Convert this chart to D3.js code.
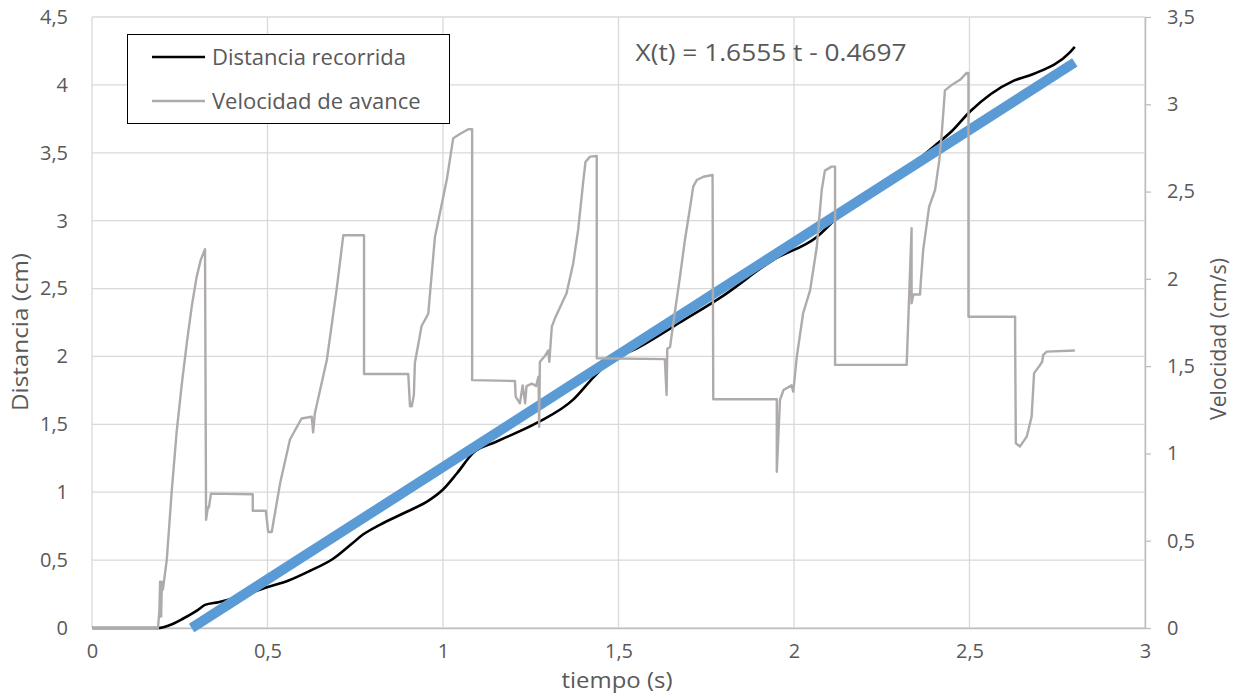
<!DOCTYPE html>
<html>
<head>
<meta charset="utf-8">
<script src="https://cdn.jsdelivr.net/npm/d3@7"></script>
<style>
  html, body { margin: 0; padding: 0; background: #fff; }
  svg text { font-family: "Open Sans", Lato, sans-serif; fill: #595959; }
</style>
</head>
<body>
<svg id="chart" width="1236" height="693"></svg>
<script>
// Time (s) and distance travelled (cm)
const distT = [0, 0.189, 0.22, 0.26, 0.30, 0.322, 0.36, 0.42, 0.498, 0.56, 0.62, 0.687, 0.74, 0.773, 0.82, 0.90, 0.96, 1.00, 1.04, 1.086, 1.15, 1.267, 1.37, 1.43, 1.47, 1.56, 1.675, 1.80, 1.94, 2.065, 2.13, 2.20, 2.30, 2.40, 2.45, 2.50, 2.625, 2.682, 2.786, 2.80];
const distX = [0, 0, 0.02, 0.07, 0.13, 0.17, 0.19, 0.23, 0.30, 0.35, 0.42, 0.51, 0.62, 0.69, 0.76, 0.86, 0.94, 1.02, 1.14, 1.29, 1.37, 1.51, 1.68, 1.85, 1.95, 2.07, 2.25, 2.45, 2.71, 2.88, 3.04, 3.18, 3.34, 3.55, 3.66, 3.80, 4.03, 4.08, 4.24, 4.28];

// Time (s) and forward speed (cm/s)
const velT = [0, 0.188, 0.192, 0.194, 0.197, 0.199, 0.202, 0.213, 0.227, 0.241, 0.256, 0.270, 0.284, 0.298, 0.310, 0.322, 0.325, 0.330, 0.333, 0.339, 0.458, 0.458, 0.495, 0.502, 0.512, 0.536, 0.564, 0.597, 0.626, 0.630, 0.635, 0.669, 0.697, 0.716, 0.775, 0.775, 0.901, 0.906, 0.911, 0.917, 0.920, 0.930, 0.939, 0.958, 0.977, 0.991, 1.011, 1.029, 1.048, 1.072, 1.083, 1.083, 1.205, 1.207, 1.219, 1.227, 1.234, 1.238, 1.253, 1.265, 1.272, 1.274, 1.276, 1.291, 1.300, 1.303, 1.310, 1.319, 1.352, 1.371, 1.385, 1.400, 1.406, 1.419, 1.438, 1.438, 1.632, 1.637, 1.639, 1.647, 1.656, 1.675, 1.689, 1.704, 1.713, 1.723, 1.742, 1.768, 1.770, 1.951, 1.951, 1.960, 1.970, 1.993, 1.998, 2.008, 2.026, 2.046, 2.065, 2.079, 2.088, 2.107, 2.117, 2.117, 2.321, 2.335, 2.335, 2.340, 2.359, 2.361, 2.368, 2.385, 2.402, 2.414, 2.421, 2.430, 2.449, 2.473, 2.492, 2.497, 2.497, 2.630, 2.630, 2.632, 2.644, 2.663, 2.677, 2.684, 2.701, 2.707, 2.710, 2.720, 2.80];
const velV = [0, 0, 0.10, 0.265, 0.065, 0.265, 0.22, 0.39, 0.78, 1.12, 1.40, 1.63, 1.84, 2.01, 2.11, 2.17, 0.62, 0.69, 0.69, 0.77, 0.766, 0.672, 0.672, 0.55, 0.55, 0.83, 1.08, 1.20, 1.21, 1.12, 1.23, 1.535, 1.94, 2.25, 2.25, 1.455, 1.455, 1.27, 1.27, 1.335, 1.52, 1.63, 1.73, 1.80, 2.24, 2.375, 2.57, 2.805, 2.83, 2.857, 2.857, 1.42, 1.415, 1.325, 1.287, 1.39, 1.287, 1.386, 1.40, 1.386, 1.44, 1.153, 1.525, 1.56, 1.59, 1.525, 1.726, 1.774, 1.917, 2.09, 2.28, 2.566, 2.67, 2.70, 2.704, 1.545, 1.54, 1.335, 1.60, 1.61, 1.745, 2.01, 2.22, 2.41, 2.53, 2.566, 2.585, 2.595, 1.31, 1.31, 0.895, 1.306, 1.363, 1.39, 1.354, 1.554, 1.803, 1.936, 2.184, 2.509, 2.62, 2.643, 2.643, 1.507, 1.507, 2.29, 1.86, 1.91, 1.91, 1.975, 2.165, 2.413, 2.51, 2.68, 2.834, 3.08, 3.11, 3.14, 3.18, 3.18, 1.783, 1.783, 1.66, 1.058, 1.04, 1.096, 1.21, 1.46, 1.507, 1.525, 1.564, 1.583, 1.59];

// Linear fit of distance vs time: X(t) = slope * t + intercept
const fitSlope = 1.6555;
const fitIntercept = -0.4697;
const fitRange = [-fitIntercept / fitSlope, 2.8];

// Tick values
const xTicks = [0, 0.5, 1, 1.5, 2, 2.5, 3];
const yLeftTicks = [0, 0.5, 1, 1.5, 2, 2.5, 3, 3.5, 4, 4.5];
const yRightTicks = [0, 0.5, 1, 1.5, 2, 2.5, 3, 3.5];

const seriesNames = ["Distancia recorrida", "Velocidad de avance"];

const fmt = v => String(v).replace(".", ",");

const plot = { left: 92, right: 1145, top: 17, bottom: 628 };
const svg = d3.select("#chart");

const x = d3.scaleLinear().domain([0, 3]).range([plot.left, plot.right]);
const yL = d3.scaleLinear().domain([0, 4.5]).range([plot.bottom, plot.top]);
const yR = d3.scaleLinear().domain([0, 3.5]).range([plot.bottom, plot.top]);

// Gridlines
const grid = svg.append("g");
grid.selectAll("line.h").data(yLeftTicks).join("line")
  .attr("x1", plot.left).attr("x2", plot.right)
  .attr("y1", d => yL(d)).attr("y2", d => yL(d))
  .attr("stroke", "#d9d9d9").attr("stroke-width", 1.3);
grid.selectAll("line.v").data(xTicks).join("line")
  .attr("x1", d => x(d)).attr("x2", d => x(d))
  .attr("y1", plot.top).attr("y2", plot.bottom)
  .attr("stroke", "#d9d9d9").attr("stroke-width", 1.3);

const tickFont = "20px";

// Bottom axis
const xAxis = svg.append("g").attr("transform", `translate(0,${plot.bottom})`)
  .call(d3.axisBottom(x).tickValues(xTicks).tickFormat(fmt).tickSize(0).tickPadding(16));
xAxis.select(".domain").attr("stroke", "#bfbfbf").attr("stroke-width", 1.5);
xAxis.selectAll("text").style("font-size", tickFont).attr("fill", "#595959")
  .style("font-family", "'Open Sans', sans-serif");

// Left axis
const yLAxis = svg.append("g").attr("transform", `translate(${plot.left},0)`)
  .call(d3.axisLeft(yL).tickValues(yLeftTicks).tickFormat(fmt).tickSize(0).tickPadding(24));
yLAxis.select(".domain").remove();
yLAxis.selectAll("text").style("font-size", tickFont).attr("fill", "#595959")
  .style("font-family", "'Open Sans', sans-serif");

// Right axis
const yRAxis = svg.append("g").attr("transform", `translate(${plot.right},0)`)
  .call(d3.axisRight(yR).tickValues(yRightTicks).tickFormat(fmt).tickSize(6).tickSizeOuter(0).tickPadding(16));
yRAxis.select(".domain").attr("stroke", "#bfbfbf").attr("stroke-width", 1.5);
yRAxis.selectAll(".tick line").attr("stroke", "#bfbfbf").attr("stroke-width", 1.3);
yRAxis.selectAll("text").style("font-size", tickFont).attr("fill", "#595959")
  .style("font-family", "'Open Sans', sans-serif");

// Axis titles
svg.append("text").attr("x", 617).attr("y", 688).attr("text-anchor", "middle")
  .style("font-size", "21px").attr("textLength", 111).attr("lengthAdjust", "spacingAndGlyphs")
  .text("tiempo (s)");
svg.append("text").attr("transform", "translate(28,332) rotate(-90)").attr("text-anchor", "middle")
  .style("font-size", "22px").attr("textLength", 158).attr("lengthAdjust", "spacingAndGlyphs")
  .text("Distancia (cm)");
svg.append("text").attr("transform", "translate(1226,339) rotate(-90)").attr("text-anchor", "middle")
  .style("font-size", "22px").attr("textLength", 162).attr("lengthAdjust", "spacingAndGlyphs")
  .text("Velocidad (cm/s)");

// Distance series
const distData = distT.map((t, i) => [t, distX[i]]);
svg.append("path").datum(distData)
  .attr("fill", "none").attr("stroke", "#000").attr("stroke-width", 2.6)
  .attr("stroke-linejoin", "round")
  .attr("d", d3.line().x(d => x(d[0])).y(d => yL(d[1])).curve(d3.curveMonotoneX));

// Linear trend of distance
const fitData = fitRange.map(t => [t, fitSlope * t + fitIntercept]);
svg.append("path").datum(fitData)
  .attr("fill", "none").attr("stroke", "#5b9bd5").attr("stroke-width", 10)
  .attr("d", d3.line().x(d => x(d[0])).y(d => yL(d[1])));

// Speed series (secondary axis)
const velData = velT.map((t, i) => [t, velV[i]]);
svg.append("path").datum(velData)
  .attr("fill", "none").attr("stroke", "#afabab").attr("stroke-width", 2.4)
  .attr("stroke-linejoin", "round")
  .attr("d", d3.line().x(d => x(d[0])).y(d => yR(d[1])));

// Fit equation
svg.append("text").attr("x", 771).attr("y", 61).attr("text-anchor", "middle")
  .style("font-size", "24px").attr("textLength", 271).attr("lengthAdjust", "spacingAndGlyphs")
  .text(`X(t) = ${fitSlope} t - ${Math.abs(fitIntercept)}`);

// Legend
const legend = svg.append("g");
legend.append("rect").attr("x", 127.5).attr("y", 34.5).attr("width", 322).attr("height", 89)
  .attr("fill", "#fff").attr("stroke", "#000").attr("stroke-width", 1);
const legendColors = ["#000", "#afabab"];
seriesNames.forEach((name, i) => {
  const yy = 57 + i * 44;
  legend.append("line").attr("x1", 152).attr("x2", 205).attr("y1", yy).attr("y2", yy)
    .attr("stroke", legendColors[i]).attr("stroke-width", 2.6);
  legend.append("text").attr("x", 212).attr("y", yy + 8).style("font-size", "22px").text(name);
});
</script>
</body>
</html>
